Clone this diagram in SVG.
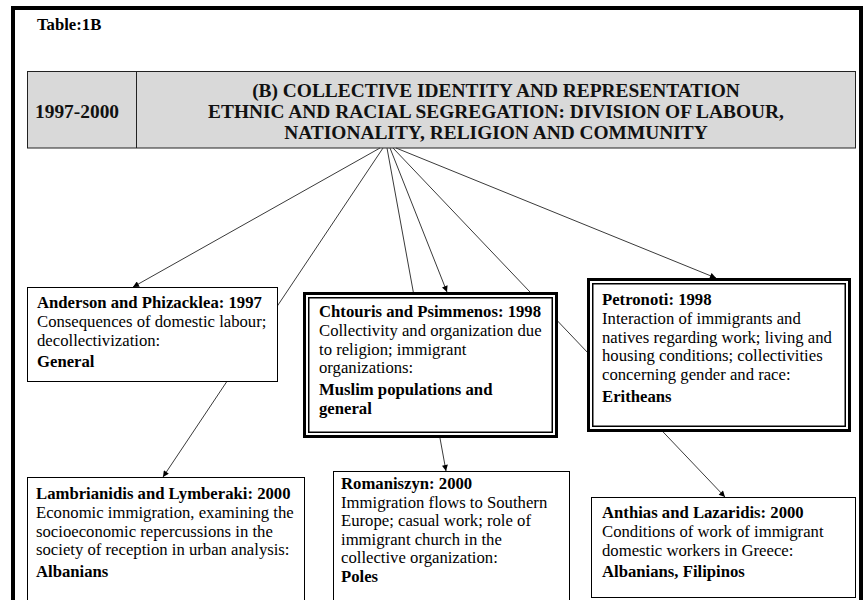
<svg xmlns="http://www.w3.org/2000/svg" width="865" height="600" viewBox="0 0 865 600">
<defs>
<style>
.t{font-family:"Liberation Serif","Times New Roman",serif;font-size:16.7px;fill:#000}
.b{font-weight:bold}
.h{font-family:"Liberation Serif","Times New Roman",serif;font-size:19.4px;font-weight:bold;fill:#111}
.box{fill:#fff;stroke:#000;stroke-width:1}
.dbo{fill:#fff;stroke:#000;stroke-width:3}
.dbi{fill:none;stroke:#000;stroke-width:1.5}
.con{stroke:#3a3a3a;stroke-width:1;fill:none;marker-end:url(#ah)}
</style>
<marker id="ah" viewBox="0 0 10 10" refX="10" refY="5" markerWidth="7" markerHeight="6" orient="auto" markerUnits="userSpaceOnUse">
<path d="M0,0 L10,5 L0,10 z" fill="#000"/>
</marker>
</defs>
<rect width="865" height="600" fill="#fff"/>
<path d="M13,602 L13,8 L861,8 L861,602" fill="none" stroke="#000" stroke-width="4"/>
<text class="t b" x="37" y="30">Table:1B</text>

<g id="header">
<rect x="27.5" y="71.5" width="828" height="76.5" fill="#d9d9d9" stroke="#222" stroke-width="1"/>
<line x1="136.5" y1="71.5" x2="136.5" y2="148" stroke="#222" stroke-width="1"/>
<text class="h" x="35" y="118">1997-2000</text>
<text class="h" x="496" y="97" text-anchor="middle">(B) COLLECTIVE IDENTITY AND REPRESENTATION</text>
<text class="h" x="496" y="118" text-anchor="middle">ETHNIC AND RACIAL SEGREGATION: DIVISION OF LABOUR,</text>
<text class="h" x="496" y="139" text-anchor="middle">NATIONALITY, RELIGION AND COMMUNITY</text>
</g>

<g id="connectors">
<line class="con" x1="380" y1="148" x2="133" y2="287"/>
<line class="con" x1="383" y1="148" x2="163" y2="477"/>
<line class="con" x1="387" y1="148" x2="446" y2="471"/>
<line class="con" x1="390" y1="148" x2="447" y2="292"/>
<line class="con" x1="393" y1="148" x2="725" y2="497"/>
<line class="con" x1="396" y1="148" x2="716" y2="278"/>
</g>

<g id="anderson">
<rect class="box" x="27.5" y="287.5" width="250" height="94"/>
<text class="t b" x="37" y="308">Anderson and Phizacklea: 1997</text>
<text class="t" x="37" y="326.8">Consequences of domestic labour;</text>
<text class="t" x="37" y="345.6">decollectivization:</text>
<text class="t b" x="37" y="366.5">General</text>
</g>

<g id="chtouris">
<rect class="dbo" x="304.5" y="293.5" width="252" height="143"/>
<rect class="dbi" x="308.75" y="297.75" width="243.5" height="134.5"/>
<text class="t b" x="319" y="317">Chtouris and Psimmenos: 1998</text>
<text class="t" x="319" y="335.8">Collectivity and organization due</text>
<text class="t" x="319" y="354.6">to religion; immigrant</text>
<text class="t" x="319" y="373.4">organizations:</text>
<text class="t b" x="319" y="395">Muslim populations and</text>
<text class="t b" x="319" y="413.8">general</text>
</g>

<g id="petronoti">
<rect class="dbo" x="588.5" y="279.5" width="261" height="151"/>
<rect class="dbi" x="592.75" y="283.75" width="252.5" height="142.5"/>
<text class="t b" x="602" y="305">Petronoti: 1998</text>
<text class="t" x="602" y="323.8">Interaction of immigrants and</text>
<text class="t" x="602" y="342.6">natives regarding work; living and</text>
<text class="t" x="602" y="361.4">housing conditions; collectivities</text>
<text class="t" x="602" y="380.2">concerning gender and race:</text>
<text class="t b" x="602" y="402">Eritheans</text>
</g>

<g id="lambrianidis">
<rect class="box" x="27.5" y="477.5" width="277" height="140"/>
<text class="t b" x="36" y="499">Lambrianidis and Lymberaki: 2000</text>
<text class="t" x="36" y="517.8">Economic immigration, examining the</text>
<text class="t" x="36" y="536.6">socioeconomic repercussions in the</text>
<text class="t" x="36" y="555.4">society of reception in urban analysis:</text>
<text class="t b" x="36" y="577">Albanians</text>
</g>

<g id="romaniszyn">
<rect class="box" x="333.5" y="471.5" width="236" height="146"/>
<text class="t b" x="341" y="489">Romaniszyn: 2000</text>
<text class="t" x="341" y="507.5">Immigration flows to Southern</text>
<text class="t" x="341" y="526">Europe; casual work; role of</text>
<text class="t" x="341" y="544.5">immigrant church in the</text>
<text class="t" x="341" y="563">collective organization:</text>
<text class="t b" x="341" y="581.5">Poles</text>
</g>

<g id="anthias">
<rect class="box" x="591.5" y="497.5" width="264" height="100"/>
<text class="t b" x="602" y="518">Anthias and Lazaridis: 2000</text>
<text class="t" x="602" y="537">Conditions of work of immigrant</text>
<text class="t" x="602" y="556">domestic workers in Greece:</text>
<text class="t b" x="602" y="577">Albanians, Filipinos</text>
</g>
</svg>
